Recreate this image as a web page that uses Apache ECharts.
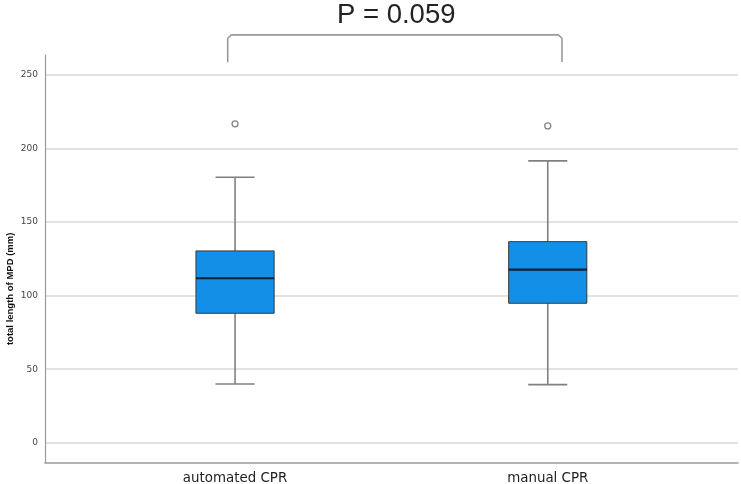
<!DOCTYPE html>
<html>
<head>
<meta charset="utf-8">
<script src="https://cdn.jsdelivr.net/npm/echarts@6.0.0/dist/echarts.min.js"></script>
<style>
  html, body { margin: 0; padding: 0; background: #fff; }
  #chart { width: 741px; height: 484px; }
</style>
</head>
<body>
<div id="chart"></div>
<script>
// groups on the x axis
const groups = ['automated CPR', 'manual CPR'];
// [lower whisker, Q1, median, Q3, upper whisker] per group
const lowerWhisker = [39.9, 39.5];
const q1 = [88.0, 94.8];
const median = [111.8, 117.7];
const q3 = [130.4, 136.7];
const upperWhisker = [180.5, 191.6];
// outliers: [group index, value]
const outliers = [[0, 216.8], [1, 215.4]];
// significance bracket between the groups (x in group index units, y in mm)
const bracketX = [-0.0235, -0.0235, -0.012, 1.034, 1.0455, 1.0455];
const bracketY = [258.6, 275.0, 277.3, 277.3, 275.0, 258.9];
const pText = 'P = 0.059';
const yTicks = [0, 50, 100, 150, 200, 250];

const yMin = -13.6, yMax = 263.6;

const boxData = groups.map((g, i) => [i, lowerWhisker[i], q1[i], median[i], q3[i], upperWhisker[i]]);
const bracketData = bracketX.map((x, i) => [x, bracketY[i]]);

function renderBox(params, api) {
    const x = api.value(0);
    const lo = api.coord([x, api.value(1)]);
    const b1 = api.coord([x, api.value(2)]);
    const md = api.coord([x, api.value(3)]);
    const b3 = api.coord([x, api.value(4)]);
    const hi = api.coord([x, api.value(5)]);
    const band = api.size([1, 0])[0];
    const bw = band * 0.25;
    const cw = band * 0.125;
    const cx = lo[0];
    const whisker = { stroke: '#808080', lineWidth: 1.6 };
    return {
        type: 'group',
        children: [
            { type: 'line', shape: { x1: cx, y1: hi[1], x2: cx, y2: b3[1] }, style: whisker },
            { type: 'line', shape: { x1: cx, y1: b1[1], x2: cx, y2: lo[1] }, style: whisker },
            { type: 'line', shape: { x1: cx - cw / 2, y1: hi[1], x2: cx + cw / 2, y2: hi[1] }, style: whisker },
            { type: 'line', shape: { x1: cx - cw / 2, y1: lo[1], x2: cx + cw / 2, y2: lo[1] }, style: whisker },
            {
                type: 'rect',
                shape: { x: cx - bw / 2, y: b3[1], width: bw, height: b1[1] - b3[1] },
                style: { fill: '#138fe8', stroke: '#3a3a3a', lineWidth: 1 }
            },
            {
                type: 'line',
                shape: { x1: cx - bw / 2, y1: md[1], x2: cx + bw / 2, y2: md[1] },
                style: { stroke: '#0b2233', lineWidth: 2.2 }
            }
        ]
    };
}

const chart = echarts.init(document.getElementById('chart'));

const option = {
    animation: false,
    backgroundColor: '#fff',
    title: {
        text: pText,
        left: 337,
        top: 1,
        padding: 0,
        textStyle: { fontFamily: 'Liberation Sans', fontSize: 27.5, fontWeight: 'normal', color: '#222' }
    },
    grid: [
        { left: 45, right: 3, top: 55, bottom: 21.3, outerBoundsMode: 'none', containLabel: false },
        { left: 78.7, right: 36.9, top: 55, bottom: 21.3, outerBoundsMode: 'none', containLabel: false }
    ],
    xAxis: [
        {
            gridIndex: 0, type: 'value', min: 0, max: 1,
            axisLine: { show: true, onZero: false, lineStyle: { color: '#9a9a9a', width: 1.5 } },
            axisTick: { show: false }, axisLabel: { show: false }, splitLine: { show: false }
        },
        {
            gridIndex: 1, type: 'category', data: groups,
            axisLine: { show: false }, axisTick: { show: false },
            axisLabel: { margin: 9, fontFamily: 'DejaVu Sans', fontSize: 13.4, color: '#222' }
        },
        {
            gridIndex: 1, type: 'value', min: -0.5, max: 1.5, show: false
        }
    ],
    yAxis: [
        {
            gridIndex: 0, type: 'value', min: yMin, max: yMax,
            minInterval: 50, maxInterval: 50,
            name: 'total length of MPD (mm)',
            nameLocation: 'middle',
            nameGap: 30,
            nameMoveOverlap: false,
            nameTextStyle: {
                fontFamily: 'Liberation Sans', fontSize: 9.5, fontWeight: 'bold', color: '#111',
                padding: [0, 60, 0, 0]
            },
            axisLine: { show: true, lineStyle: { color: '#9a9a9a', width: 1.2 } },
            axisTick: { show: false },
            axisLabel: {
                margin: 7, fontFamily: 'DejaVu Sans', fontSize: 9, color: '#444',
                formatter: v => (yTicks.indexOf(Math.round(v * 10) / 10) >= 0 ? String(v) : '')
            },
            splitLine: { show: true, showMinLine: false, showMaxLine: false, lineStyle: { color: '#d9d9d9', width: 1.5 } }
        },
        {
            gridIndex: 1, type: 'value', min: yMin, max: yMax, show: false, splitLine: { show: false }
        }
    ],
    series: [
        {
            type: 'custom',
            xAxisIndex: 1, yAxisIndex: 1,
            renderItem: renderBox,
            encode: { x: 0, y: [1, 2, 3, 4, 5] },
            data: boxData
        },
        {
            type: 'scatter',
            xAxisIndex: 1, yAxisIndex: 1,
            symbol: 'circle', symbolSize: 6,
            itemStyle: { color: '#fff', borderColor: '#666', borderWidth: 1.3 },
            data: outliers
        },
        {
            type: 'line',
            xAxisIndex: 2, yAxisIndex: 1,
            clip: false, symbol: 'none',
            lineStyle: { color: '#9a9a9a', width: 1.6 },
            data: bracketData
        }
    ]
};

chart.setOption(option);
</script>
</body>
</html>
